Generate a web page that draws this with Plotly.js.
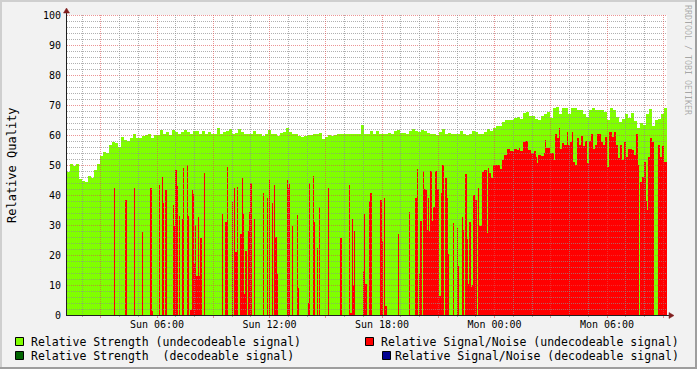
<!DOCTYPE html>
<html>
<head>
<meta charset="utf-8">
<script src="https://cdn.plot.ly/plotly-3.0.1.min.js"></script>
<style>html,body{margin:0;padding:0;background:#F2F2F2;}#chart{width:697px;height:369px;}</style>
</head>
<body>
<div id="chart"></div>
<script>
// ---- data (hours since Sun 00:00) ----
const startHour = 1.2;
const strengthStepHours = 0.16;      // 9.6 min per strength sample
const snStepHours = 3.2 / 60;        // 3.2 min per signal/noise sample

const strengthUndecodeable = [
  47.6, 50.5, 49.8, 50.5, 45.5, 44.7, 44.5, 46.5, 45.8, 48.3,
  50.5, 53, 54.4, 54, 56.6, 57.8, 57.2, 56.1, 59.4, 58.3,
  58, 59.1, 60.2, 58.9, 59.1, 59.8, 60, 60.2, 59.1, 60,
  60, 61.7, 60.2, 60.9, 60, 61.7, 61.1, 60.5, 61.1, 61.7,
  61, 60.5, 61.3, 61.5, 60.5, 61.5, 60.5, 61, 60.5, 60.3,
  62.5, 60.3, 61, 61.5, 62, 60.5, 60.8, 62, 61, 60.5,
  60.2, 60.5, 61.3, 60.3, 60.2, 59.8, 60.2, 61.8, 60.3, 60.3,
  59.8, 60.8, 61, 62.2, 61, 60.3, 60.5, 59.8, 59.3, 59.8,
  60, 60, 60.3, 60.5, 60.8, 58.8, 59.3, 60, 59.8, 60,
  60.2, 60.5, 60.3, 60.2, 60.5, 60.2, 60.3, 60.3, 63.3, 60.5,
  60.3, 61.3, 60.5, 61.5, 60.2, 60.2, 60.3, 60.8, 60.2, 61.2,
  61.8, 60.8, 60.7, 60.4, 61.2, 62, 61.2, 61, 61.7, 61.5,
  60.8, 60.5, 60.5, 60, 61, 62, 60.5, 60.8, 60.3, 60.5,
  60.5, 61.5, 60.5, 60, 60.5, 61.5, 61, 60.5, 60.3, 61,
  62, 61.5, 62.5, 63, 63, 64.5, 65, 65, 65, 65.8,
  66, 65.5, 67.5, 67.8, 66.2, 66.5, 65.5, 65, 66.5, 67,
  67.8, 65.6, 69, 69.5, 67, 68.9, 69, 67, 69, 68.9,
  68.5, 68.5, 67, 66, 68.3, 68.9, 68.3, 68.3, 68.5, 67.8,
  65, 69, 68.3, 66, 64.4, 65.5, 66.9, 65.6, 67.2, 64.7,
  62.5, 64, 63.3, 67, 68.7, 63, 65, 65.3, 67, 68.9
];

const snUndecodeable = [
  0,0,0,0,0,0,0,0,0,0,0,0,0,0,0,0,0,0,0,0,
  0,0,0,0,0,0,0,0,0,0,0,0,0,0,0,0,0,0,0,0,
  0,0,0,0,0,0,0,42.2,0,0,0,0,0,0,0,0,0,0,38.3,38.3,
  0,0,0,0,0,0,0,42.2,0,0,0,0,0,0,0,27.7,0,0,0,0,
  0,0,0,42.2,42.2,1.5,0,0,0,0,0,0,43.3,0,0,45.9,37.4,0,41.7,41.7,
  0,0,0,0,0,0,36.7,29.7,48.3,48.3,43,0,33,0,0,32,49.1,0,0,0,
  50,33,0,1.6,1.6,41.7,40.5,17,30,13,13,32.8,13,25.6,25.6,0,0,47.2,0,0,
  0,0,0,0,0,0,0,0,0,0,0,0,0,0,0,33.7,0,0,31,31,
  49.3,0,0,0,0,37.7,0,42.3,21,21,42.7,0,0,27,27,45.7,33.7,7,21.3,21.3,
  0,28,34.3,44,44,0,0,32,0,0,0,0,0,0,0,0,40.7,0,0,0,
  39,0,45,0,0,37.3,0,43.3,26,26,13.7,0,0,0,0,0,0,0,0,0,
  45,42.3,43.7,0,0,29.7,0,0,0,0,33.3,9,0,0,0,0,0,0,0,0,
  0,3.9,44,0,0,0,46.3,31,0,0,22.3,0,36,0,0,0,0,0,0,0,
  0,42.3,0,0,0,0,0,0,0,0,0,0,0,25.7,25.7,0,0,0,0,0,
  0,0,43.3,0.7,0.7,32,10,28,0,0,0,0,0,0,0,0,14.7,33.7,10.3,10.3,
  0,0,38,40.7,40.7,0,0,0,0,0,0,0,0,38.3,38.3,24.7,0,39,3,3,
  0,0,0,0,0,0,0,0,0,0,0,27,0,0,0,0,0,0,0,0,
  0,0,34.3,0,0,0,0,0,39,39,48.7,0,13.7,31.3,31.3,0,48,42,42,41.7,
  28.3,38.9,28,48,48,31.3,36,36,48,48,42,42,6.3,6.3,40.7,50,50,0,45.7,45.7,
  39,20.3,0,0,0,0,30.7,0,0,0,29,16.2,0,0,0,32.7,28.3,0,47,47,
  25.3,10.3,31,31,9.4,10,40,40,38.3,38.3,0,42.3,29.7,29.7,29.7,47.7,47.7,48.3,48.3,48.3,
  27.3,49,47.3,47.3,45.7,45.7,50,50,50,50,50,50,50,48.7,48.7,51.7,51.7,53.5,53.5,53.5,
  55.5,55.5,55.5,54.7,54.7,54.7,54.7,55.5,55.5,55.5,55,55,55.8,54.7,54.7,54.7,57.8,57.8,58,58,
  58,55,55,55,53.9,53.9,53.9,54.7,54.7,52.8,50.6,53.5,53.5,53.5,53,53,53,54,58.3,55.8,
  55.8,55.8,55.8,53.9,53.9,53.9,53.9,51.7,60.2,60.2,59.1,59.1,62.2,55.5,55.5,57.2,57.2,56.7,56.7,56.7,
  60.9,56.7,56.7,57.8,57.8,61.1,51.1,51.1,50,50,58.9,58.9,56.7,56.7,59.8,59.8,56.4,56.4,58,58,
  50.6,50.6,58.1,58.1,60.5,60.5,55.5,55.5,56.7,56.7,60.2,60.2,60.3,60.3,57.8,57.8,56.7,56.7,59.4,59.4,
  49.4,49.4,61.1,61.1,61.1,59.4,59.4,61.1,61.1,56.7,56.7,52.2,52.2,56.7,56.7,51.7,51.7,57.8,57.8,52.8,
  52.8,55.5,55.5,55.5,55.5,55,55,53.3,53.3,60.2,60.2,50,0,44.2,44.2,46.1,46.1,51.1,51.1,38,
  35,52.8,52.8,58.9,58.9,57.8,57.8,0,0,0,0,56.7,56.7,52.8,52.8,56.4,56.4,51.1,51.1,51
];

// decodeable series: no samples in this period
const strengthDecodeable = [];
const snDecodeable = [];

const tickHours = [3, 6, 9, 12, 15, 18, 21, 24, 27, 30, 33];
const tickLabels = ['', 'Sun 06:00', '', 'Sun 12:00', '', 'Sun 18:00', '', 'Mon 00:00', '', 'Mon 06:00', ''];
const yTicks = [0, 10, 20, 30, 40, 50, 60, 70, 80, 90, 100];

const legendLabels = [
  'Relative Strength (undecodeable signal)',
  'Relative Signal/Noise (undecodeable signal)',
  'Relative Strength\u00A0 (decodeable signal)',
  'Relative Signal/Noise (decodeable signal)'
];
const seriesColors = ['#80FF00', '#FF0000', '#006400', '#000090'];

// ---- layout geometry (pixels) ----
const W = 697, H = 369, PL = 67, PR = 667, PT = 15, PB = 315;
const PW = PR - PL, PH = PB - PT;
const X = px => (px - PL) / PW;          // pixel -> paper
const Y = py => (PB - py) / PH;
const xMin = startHour, xMax = startHour + strengthUndecodeable.length * strengthStepHours;
const hourToPx = h => PL + (h - xMin) / (xMax - xMin) * PW;

const strengthTimes = strengthUndecodeable.map((_, i) => startHour + (i + 0.5) * strengthStepHours);
const snTimes = snUndecodeable.map((_, i) => startHour + (i + 0.5) * snStepHours);

const traces = [
  {type: 'bar', x: strengthTimes, y: strengthUndecodeable, width: strengthStepHours,
   marker: {color: seriesColors[0], line: {width: 0}}, hoverinfo: 'skip'},
  {type: 'bar', x: strengthTimes.slice(0, strengthDecodeable.length), y: strengthDecodeable, width: strengthStepHours,
   marker: {color: seriesColors[2], line: {width: 0}}, hoverinfo: 'skip'},
  {type: 'bar', x: snTimes, y: snUndecodeable, width: snStepHours,
   marker: {color: seriesColors[1], line: {width: 0}}, hoverinfo: 'skip'},
  {type: 'bar', x: snTimes.slice(0, snDecodeable.length), y: snDecodeable, width: snStepHours,
   marker: {color: seriesColors[3], line: {width: 0}}, hoverinfo: 'skip'}
];

const minorGrid = 'rgba(143,143,143,0.7)';
const majorGrid = 'rgba(222,79,79,0.6)';
const dash = '1px,1px';
const shapes = [];

// horizontal grid (drawn on top of the data, like rrdtool)
for (let v = 2; v <= 100; v += 2) {
  const py = Math.round(PB - v * 3) + 0.5;
  shapes.push({type: 'line', layer: 'above', xref: 'paper', yref: 'paper',
    x0: 0, x1: 1, y0: Y(py), y1: Y(py),
    line: {color: v % 10 === 0 ? majorGrid : minorGrid, width: 1, dash: dash}});
}
// vertical grid (drawn top -> bottom) + tick marks
for (let h = Math.ceil(xMin); h <= xMax; h += 1) {
  const px = Math.floor(hourToPx(h)) + 0.5;
  shapes.push({type: 'line', layer: 'above', xref: 'paper', yref: 'paper',
    x0: X(px), x1: X(px), y0: Y(PT), y1: Y(PB),
    line: {color: h % 3 === 0 ? majorGrid : minorGrid, width: 1, dash: dash}});
  shapes.push({type: 'line', layer: 'above', xref: 'paper', yref: 'paper',
    x0: X(px), x1: X(px), y0: Y(PB), y1: Y(PB + (h % 3 === 0 ? 3 : 2)),
    line: {color: h % 3 === 0 ? majorGrid : minorGrid, width: 1}});
}
// axes with arrows
const axisCol = '#1F1F1F', arrowCol = '#801F1F';
shapes.push({type: 'line', layer: 'above', xref: 'paper', yref: 'paper',
  x0: X(66), x1: X(670), y0: Y(315.5), y1: Y(315.5), line: {color: axisCol, width: 1}});
shapes.push({type: 'line', layer: 'above', xref: 'paper', yref: 'paper',
  x0: X(66.5), x1: X(66.5), y0: Y(316), y1: Y(12), line: {color: axisCol, width: 1}});
shapes.push({type: 'path', layer: 'above', xref: 'paper', yref: 'paper',
  path: `M ${X(674)} ${Y(315.5)} L ${X(669)} ${Y(312.5)} L ${X(669)} ${Y(318.5)} Z`,
  fillcolor: arrowCol, line: {color: arrowCol, width: 0.5}});
shapes.push({type: 'path', layer: 'above', xref: 'paper', yref: 'paper',
  path: `M ${X(66.5)} ${Y(8)} L ${X(63.5)} ${Y(13)} L ${X(69.5)} ${Y(13)} Z`,
  fillcolor: arrowCol, line: {color: arrowCol, width: 0.5}});
// frame (3d shade)
shapes.push({type: 'line', xref: 'paper', yref: 'paper', x0: X(0), x1: X(W), y0: Y(1), y1: Y(1), line: {color: '#CFCFCF', width: 2}});
shapes.push({type: 'line', xref: 'paper', yref: 'paper', x0: X(1), x1: X(1), y0: Y(0), y1: Y(H), line: {color: '#CFCFCF', width: 2}});
shapes.push({type: 'line', xref: 'paper', yref: 'paper', x0: X(0), x1: X(W), y0: Y(H - 1), y1: Y(H - 1), line: {color: '#9E9E9E', width: 2}});
shapes.push({type: 'line', xref: 'paper', yref: 'paper', x0: X(W - 1), x1: X(W - 1), y0: Y(0), y1: Y(H), line: {color: '#9E9E9E', width: 2}});

// legend boxes & text
const legendPos = [
  {box: 15, text: 30, y: 341.5},
  {box: 365, text: 380, y: 341.5},
  {box: 15, text: 30, y: 355.5},
  {box: 382, text: 394, y: 355.5}
];
const annotations = [];
legendPos.forEach((p, i) => {
  shapes.push({type: 'rect', xref: 'paper', yref: 'paper',
    x0: X(p.box + 0.5), x1: X(p.box + 8.5), y0: Y(p.y - 4), y1: Y(p.y + 4),
    fillcolor: seriesColors[i], line: {color: '#000', width: 1}});
  annotations.push({xref: 'paper', yref: 'paper', x: X(p.text), y: Y(p.y),
    xanchor: 'left', yanchor: 'middle', showarrow: false, borderpad: 0,
    text: legendLabels[i], font: {family: 'DejaVu Sans Mono', size: 11.5, color: '#000'}});
});
annotations.push({xref: 'paper', yref: 'paper', x: X(12), y: Y(165), showarrow: false,
  xanchor: 'center', yanchor: 'middle', textangle: -90, text: 'Relative Quality', borderpad: 0,
  font: {family: 'DejaVu Sans Mono', size: 12, color: '#000'}});
annotations.push({xref: 'paper', yref: 'paper', x: X(688), y: Y(60), showarrow: false,
  xanchor: 'center', yanchor: 'middle', textangle: 90, text: 'RRDTOOL / TOBI OETIKER', borderpad: 0,
  font: {family: 'DejaVu Sans Mono', size: 8.3, color: 'rgba(0,0,0,0.33)'}});

const layout = {
  width: W, height: H,
  margin: {l: PL, r: W - PR, t: PT, b: H - PB, pad: 0},
  paper_bgcolor: '#F2F2F2', plot_bgcolor: '#FFFFFF',
  barmode: 'overlay', bargap: 0, showlegend: false,
  font: {family: 'DejaVu Sans Mono', size: 10, color: '#000'},
  xaxis: {range: [xMin, xMax], tickmode: 'array', tickvals: tickHours, ticktext: tickLabels,
    showgrid: false, zeroline: false, showline: false, ticks: '', fixedrange: true,
    ticklabelstandoff: 2,
    tickfont: {family: 'DejaVu Sans Mono', size: 10, color: '#000'}},
  yaxis: {range: [0, 100], tickmode: 'array', tickvals: yTicks,
    showgrid: false, zeroline: false, showline: false, ticks: '', fixedrange: true,
    ticklabelstandoff: 5,
    tickfont: {family: 'DejaVu Sans Mono', size: 10, color: '#000'}},
  shapes: shapes,
  annotations: annotations
};

Plotly.newPlot('chart', traces, layout, {staticPlot: true, displayModeBar: false});
</script>
</body>
</html>
